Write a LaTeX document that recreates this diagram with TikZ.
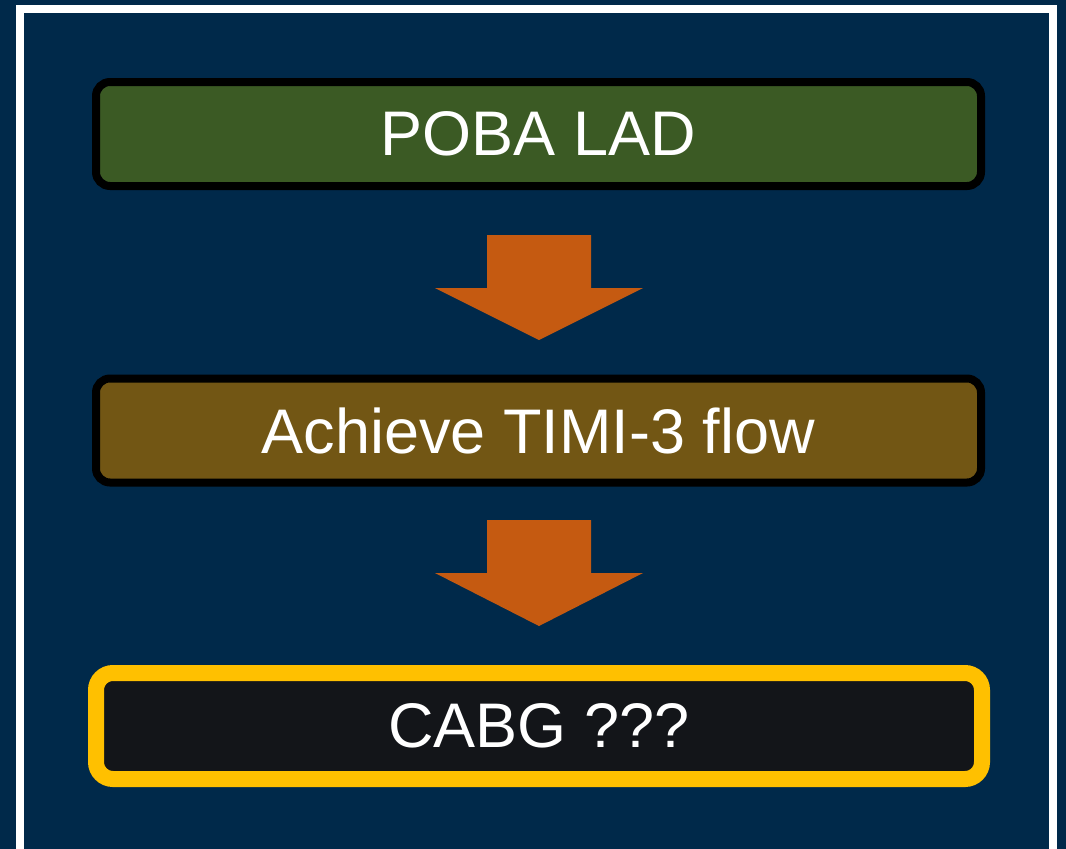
\documentclass[tikz,border=0pt]{standalone}
\usepackage{fontspec}
\setmainfont{Liberation Sans}
\usetikzlibrary{calc}
\definecolor{navy}{HTML}{00294A}
\definecolor{boxgreen}{HTML}{3B5A24}
\definecolor{boxbrown}{HTML}{725614}
\definecolor{arroworange}{HTML}{C55A11}
\definecolor{gold}{HTML}{FFC000}
\definecolor{darkfill}{HTML}{131519}
\tikzset{
  stepbox/.style={draw=black, line width=8pt, rounded corners=14pt,
    minimum width=885pt, minimum height=104pt, inner sep=0pt,
    text=white, font=\fontsize{63}{75}\selectfont},
  goalbox/.style={draw=gold, fill=darkfill, line width=16pt, rounded corners=17pt,
    minimum width=886pt, minimum height=106pt, inner sep=0pt,
    text=white, font=\fontsize{63}{75}\selectfont},
  blockarrow/.style={fill=arroworange, draw=none},
}
\begin{document}
\begin{tikzpicture}[x=1pt,y=-1pt]
\useasboundingbox (0,0) rectangle (1066,849);
\fill[navy] (0,0) rectangle (1066,849);
\draw[white, line width=8pt] (20,870) -- (20,9) -- (1053,9) -- (1053,870);
\node[stepbox, fill=boxgreen] (poba) at (538.5,134) {POBA LAD};
\node[stepbox, fill=boxbrown] (timi) at (538.5,430.5) {Achieve TIMI-3 flow};
\node[goalbox] (cabg) at (539,726) {CABG ???};
% block arrows between boxes
\coordinate (a1) at (539,235);
\coordinate (a2) at (539,520);
\fill[blockarrow] ($(a1)+(-52,0)$) -- ($(a1)+(52,0)$) -- ($(a1)+(52,53)$) -- ($(a1)+(104,53)$)
  -- ($(a1)+(0,105)$) -- ($(a1)+(-104,53)$) -- ($(a1)+(-52,53)$) -- cycle;
\fill[blockarrow] ($(a2)+(-52,0)$) -- ($(a2)+(52,0)$) -- ($(a2)+(52,53)$) -- ($(a2)+(104,53)$)
  -- ($(a2)+(0,106)$) -- ($(a2)+(-104,53)$) -- ($(a2)+(-52,53)$) -- cycle;
\end{tikzpicture}
\end{document}
